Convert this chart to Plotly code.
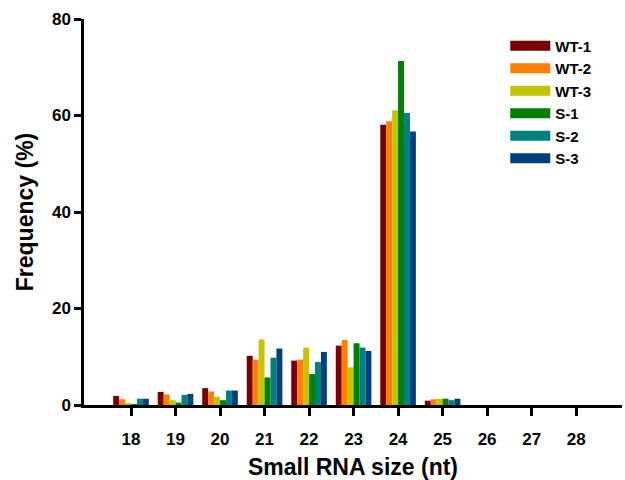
import plotly.graph_objects as go

sizes = [18, 19, 20, 21, 22, 23, 24, 25, 26, 27, 28]
series_names = ["WT-1", "WT-2", "WT-3", "S-1", "S-2", "S-3"]
wt1 = [1.9, 2.7, 3.5, 10.2, 9.2, 12.3, 58.1, 0.9, 0, 0, 0]
wt2 = [1.2, 2.2, 2.8, 9.4, 9.4, 13.5, 58.8, 1.2, 0, 0, 0]
wt3 = [0.3, 1.0, 1.7, 13.6, 11.9, 7.8, 61.1, 1.3, 0, 0, 0]
s1 = [0.1, 0.5, 1.0, 5.7, 6.4, 12.8, 71.3, 1.3, 0, 0, 0]
s2 = [1.3, 2.1, 3.0, 9.8, 8.9, 11.9, 60.5, 1.0, 0, 0, 0]
s3 = [1.3, 2.3, 3.0, 11.7, 11.0, 11.2, 56.7, 1.3, 0, 0, 0]
series_values = [wt1, wt2, wt3, s1, s2, s3]
colors = ["#7a0000", "#ff8000", "#c4c400", "#008000", "#008080", "#004080"]
y_ticks = [0, 20, 40, 60, 80]

fig = go.Figure()
for name, vals, col in zip(series_names, series_values, colors):
    fig.add_trace(go.Bar(x=sizes, y=vals, name=name, marker_color=col,
                         marker_line_width=0, showlegend=False))
for name, col in zip(series_names, colors):
    fig.add_trace(go.Scatter(x=[None], y=[None], mode="lines", name=name,
                             line=dict(color=col, width=10)))

fig.update_layout(
    width=625, height=480,
    margin=dict(l=84, r=3, t=19, b=75),
    paper_bgcolor="white", plot_bgcolor="white",
    barmode="group", bargap=0.2, bargroupgap=0,
    font=dict(family="Liberation Sans, Arial, sans-serif", color="black"),
    legend=dict(x=0.783, y=0.973, xanchor="left", yanchor="top",
                bgcolor="rgba(0,0,0,0)", itemwidth=40, tracegroupgap=0,
                font=dict(size=15, family="Liberation Sans, Arial, sans-serif",
                          weight="bold")),
    xaxis=dict(range=[16.944, 29.03], tickmode="array", tickvals=sizes,
               ticktext=[str(s) for s in sizes],
               showline=True, linecolor="black", linewidth=2.5,
               ticks="outside", tickwidth=2.5, ticklen=8, tickcolor="black",
               ticklabelstandoff=9, showgrid=False, zeroline=False,
               tickfont=dict(size=17, weight="bold"),
               title=dict(text="Small RNA size (nt)", standoff=12,
                          font=dict(size=23, weight="bold"))),
    yaxis=dict(range=[0, 80], tickmode="array", tickvals=y_ticks,
               showline=True, linecolor="black", linewidth=2.5,
               ticks="outside", tickwidth=2.5, ticklen=7, tickcolor="black",
               showgrid=False, zeroline=False,
               tickfont=dict(size=17, weight="bold"),
               title=dict(text="Frequency (%)", standoff=12,
                          font=dict(size=23, weight="bold"))),
)

fig.write_html("out.html")
